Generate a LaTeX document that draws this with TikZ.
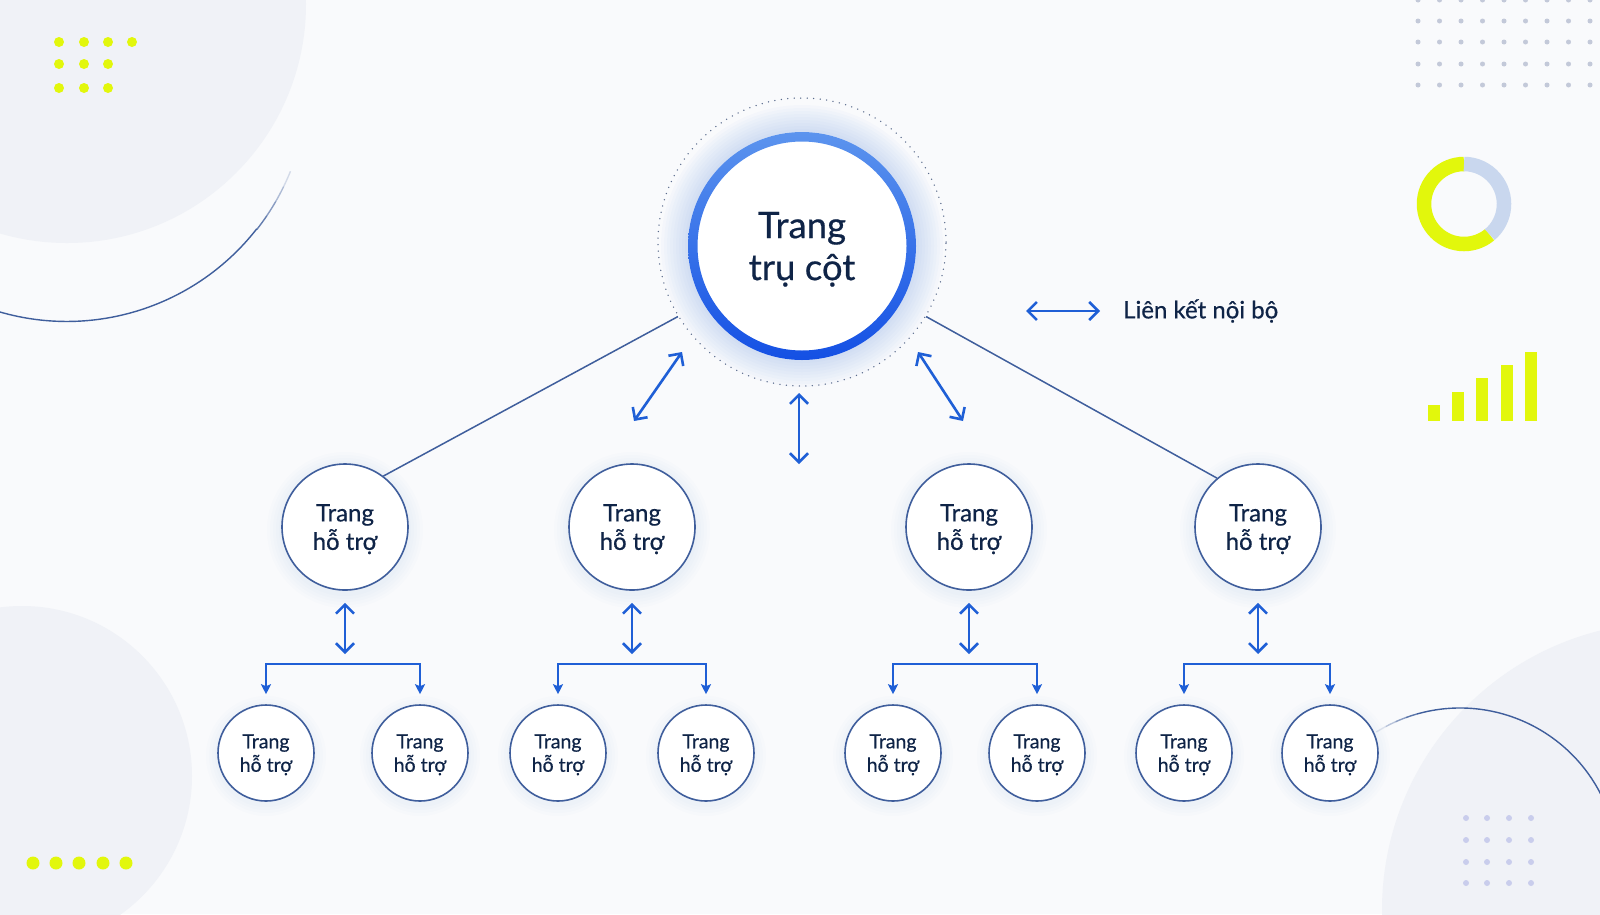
\documentclass[tikz,border=0pt]{standalone}
\usepackage{fontspec}
\setmainfont{Lato}[FakeBold=0.5]
\usetikzlibrary{arrows.meta,positioning,calc}
\definecolor{navy}{HTML}{0F2447}
\definecolor{linkblue}{HTML}{1F5FD6}
\definecolor{edgenavy}{HTML}{3F5E9C}
\definecolor{dotnavy}{HTML}{5A6B8C}
\definecolor{bgpale}{HTML}{F9FAFC}
\definecolor{blobpale}{HTML}{F0F2F7}
\definecolor{lime}{HTML}{E2F70C}
\definecolor{donutblue}{HTML}{C9D7EE}
\definecolor{gridgray}{HTML}{C3C9D9}
\definecolor{ringlight}{HTML}{5C94EE}
\definecolor{ringdeep}{HTML}{1450E4}
\tikzset{
  pillar/.style={circle, fill=white, minimum size=228pt, inner sep=0pt, align=center, text=navy, text depth=-2pt, font=\fontsize{36.5}{42}\selectfont},
  ring/.style={circle, minimum size=288pt, inner sep=0pt, draw=dotnavy, line width=1.5pt, dash pattern=on 0pt off 6.5pt, line cap=round},
  support/.style={circle, draw=edgenavy, line width=1.6pt, fill=white, minimum size=126pt, inner sep=0pt, align=center, text=navy, text depth=-2pt, font=\fontsize{24}{28.5}\selectfont},
  subpage/.style={support, minimum size=96pt, text depth=0pt, font=\fontsize{19.5}{23.5}\selectfont},
  link/.style={{Straight Barb[length=9pt,width=18pt]}-{Straight Barb[length=9pt,width=18pt]}, line width=2.6pt, draw=linkblue},
  branch/.style={-{Stealth[length=10pt,width=10pt,inset=2pt]}, line width=2pt, draw=linkblue, shorten >=10pt},
  spoke/.style={line width=1.5pt, draw=edgenavy},
  cornerarc/.style={line width=1.4pt, draw=edgenavy},
  keytext/.style={text=navy, font=\fontsize{24}{28}\selectfont, inner sep=0pt}
}
\begin{document}
\begin{tikzpicture}[x=1pt, y=-1pt]
  \useasboundingbox (0,0) rectangle (1600,914);
  \clip (0,0) rectangle (1600,914);
  \fill[bgpale] (0,0) rectangle (1600,914);

  % pale corner shapes
  \fill[blobpale] (67,4) circle[radius=239pt];
  \fill[blobpale] (22,776) circle[radius=170pt];
  \fill[blobpale] (1670,910) circle[radius=288pt];
  \draw[cornerarc] (0,312) arc[start angle=253.9, end angle=322, radius=241pt];
  \foreach \a/\o in {322/0.8,326/0.6,330/0.4,334/0.2}
    \draw[cornerarc, opacity=\o] (67,81) ++(\a:241pt) arc[start angle=\a, end angle=\a+4, radius=241pt];
  \draw[cornerarc] (1460,866) ++(106:158pt) arc[start angle=106, end angle=20, radius=158pt];
  \foreach \a/\o in {122/0.15,118/0.35,114/0.6,110/0.85}
    \draw[cornerarc, opacity=\o] (1460,866) ++(\a:158pt) arc[start angle=\a, end angle=\a-4, radius=158pt];

  % dots, donut and bars
  \foreach \x in {59,84,108,132} \fill[lime] (\x,42) circle[radius=5pt];
  \foreach \y in {64,88} \foreach \x in {59,84,108} \fill[lime] (\x,\y) circle[radius=5pt];
  \foreach \x in {33,56,79,103,126} \fill[lime] (\x,863) circle[radius=6.5pt];
  \foreach \y in {0,21,42,64,85} \foreach \k in {0,...,8}
    \fill[gridgray] ({1418+21.5*\k},\y) circle[radius=2.5pt];
  \foreach \y in {818,840,862,883} \foreach \x in {1466,1487,1509,1531}
    \fill[gridgray!85!blue!60] (\x,\y) circle[radius=3pt];
  \draw[lime, line width=14.5pt] (1464,204) ++(90:40pt) arc[start angle=90, end angle=310, radius=40pt];
  \draw[donutblue, line width=14.5pt] (1464,204) ++(310:40pt) arc[start angle=310, end angle=450, radius=40pt];
  \foreach \k in {0,...,4}
    \fill[lime] ({1428+24.2*\k},421) rectangle ({1440+24.2*\k},{405-13.3*\k});

  % soft glow
  \foreach \r in {3,6,...,27} \fill[linkblue, opacity=0.018] (802,246) circle[radius=114pt+\r pt];
  \foreach \x in {345,632,969,1258} \foreach \r in {3,6,...,15}
    \fill[linkblue, opacity=0.012] (\x,530) circle[radius=63pt+\r pt];
  \foreach \x in {266,420,558,706,893,1037,1184,1330} \foreach \r in {3,6,...,12}
    \fill[linkblue, opacity=0.012] (\x,756) circle[radius=48pt+\r pt];

  % pillar page
  \node[ring] (ring) at (802,242) {};
  \node[pillar] (pillar) at (802,246) {Trang\\trụ cột};
  \shade[top color=ringlight, bottom color=ringdeep, even odd rule]
    (pillar.center) circle[radius=114pt] (pillar.center) circle[radius=104.5pt];

  % support pages
  \foreach \x [count=\i] in {345,632,969,1258}
    \node[support] (sup\i) at (\x,527) {Trang\\hỗ trợ};
  \foreach \x [count=\i] in {266,558,893,1184}
    \node[subpage] (leafA\i) at (\x,753) {Trang\\hỗ trợ};
  \foreach \x [count=\i] in {420,706,1037,1330}
    \node[subpage] (leafB\i) at (\x,753) {Trang\\hỗ trợ};

  \draw[spoke] (ring.211) -- (sup1.53);
  \draw[spoke] (ring.-31) -- (sup4.130);

  % internal links
  \coordinate (dl1) at (682,352); \coordinate (dl2) at (634,421);
  \coordinate (dc1) at (799,393); \coordinate (dc2) at (799,464);
  \coordinate (dr1) at (918,352); \coordinate (dr2) at (963,421);
  \draw[link] (dl1) -- (dl2);
  \draw[link] (dc1) -- (dc2);
  \draw[link] (dr1) -- (dr2);

  \foreach \i/\x in {1/345,2/632,3/969,4/1258}{
    \coordinate (fork\i) at (\x,664);
    \draw[link, shorten <=12pt, shorten >=10pt] (sup\i) -- (fork\i);
    \draw[branch] (fork\i) -| (leafA\i);
    \draw[branch] (fork\i) -| (leafB\i);
  }

  % legend
  \coordinate (keyL) at (1026,311); \coordinate (keyR) at (1100,311);
  \draw[link] (keyL) -- (keyR);
  \node[keytext, right=23pt of keyR] (keytxt) {Liên kết nội bộ};
\end{tikzpicture}
\end{document}
